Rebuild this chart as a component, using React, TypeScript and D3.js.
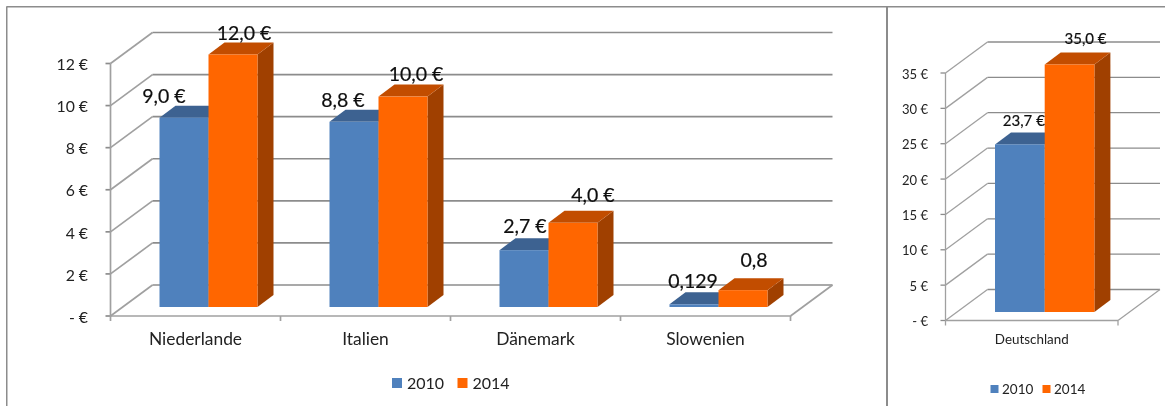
import React from "react";
import * as d3 from "d3";

const years = ["2010", "2014"];
const mainCategories = ["Niederlande", "Italien", "Dänemark", "Slowenien"];
const mainValues2010 = [9.0, 8.8, 2.7, 0.129];
const mainValues2014 = [12.0, 10.0, 4.0, 0.8];
const mainLabels2010 = ["9,0 €", "8,8 €", "2,7 €", "0,129"];
const mainLabels2014 = ["12,0 €", "10,0 €", "4,0 €", "0,8"];
const mainTicks = [0, 2, 4, 6, 8, 10, 12];
const sideCategories = ["Deutschland"];
const sideValues2010 = [23.7];
const sideValues2014 = [35.0];
const sideLabels2010 = ["23,7 €"];
const sideLabels2014 = ["35,0 €"];
const sideTicks = [0, 5, 10, 15, 20, 25, 30, 35];

const FONT = "Lato, 'Open Sans', sans-serif";
const BLUE = { front: "#4f81bd", top: "#3c6291" };
const ORANGE = { front: "#ff6600", top: "#c24e00", side: "#a04000" };
const GRID = "#8c8c8c";

type Nudge = [number, number];
type ChartProps = {
  categories: string[]; a: number[]; b: number[]; la: string[]; lb: string[];
  ticks: number[]; x0: number; x1: number; y0: number; yTop: number; maxV: number;
  baseGap: number; barInset: number; barW: number; gridW: number;
  tickFs: number; tickEnd: number; catFs: number; catY: number; labelFs: number;
  nudgeA: Nudge[]; nudgeB: Nudge[]; clipRight?: number;
  legend: { xs: number[]; textXs: number[]; y: number; size: number; fs: number; baseline: number };
};

const DX = 42, DY = -31, BDX = 16, BDY = -12;

function Chart(p: ChartProps) {
  const y = d3.scaleLinear().domain([0, p.maxV]).range([p.y0, p.yTop]);
  const x = d3.scaleBand<string>().domain(p.categories).range([p.x0, p.x1]).paddingInner(0).paddingOuter(0);
  const barY = (v: number) => y(v) - p.baseGap;
  const poly = (pts: number[][]) => pts.map((q) => q.join(",")).join(" ");
  const ext = x.step() * p.categories.length;
  const tickXs = d3.range(p.categories.length + 1).map((i) => p.x0 + i * x.step());

  const bar = (bx: number, v: number, c: { front: string; top: string; side?: string }, key: string) => {
    const t = barY(v), b = barY(0), w = p.barW;
    return (
      <g key={key}>
        <polygon points={poly([[bx + w, t], [bx + w + BDX, t + BDY], [bx + w + BDX, b + BDY], [bx + w, b]])} fill={c.side ?? c.top} />
        <polygon points={poly([[bx, t], [bx + BDX, t + BDY], [bx + w + BDX, t + BDY], [bx + w, t]])} fill={c.top} />
        <rect x={bx} y={t} width={w} height={b - t} fill={c.front} />
      </g>
    );
  };

  return (
    <g fontFamily={FONT}>
      {p.ticks.map((t) => (
        <g key={t} stroke={GRID} fill="none" strokeWidth={p.gridW}>
          <line x1={p.x0} y1={y(t)} x2={p.x0 + DX} y2={y(t) + DY} stroke="#a0a0a0" />
          <line x1={p.x0 + DX} y1={y(t) + DY} x2={Math.min(p.x0 + ext + DX, p.clipRight ?? 1e4)} y2={y(t) + DY} />
          <line x1={p.x0 - 5} y1={y(t)} x2={p.x0} y2={y(t)} />
        </g>
      ))}
      <g stroke="#a0a0a0" strokeWidth={p.gridW} fill="none">
        <line x1={p.x0} y1={y(0)} x2={p.x0} y2={y(p.maxV)} />
        <line x1={p.x0} y1={y(0)} x2={p.x0 + ext} y2={y(0)} />
        <line x1={p.x0 + ext} y1={y(0)} x2={p.x0 + ext + DX} y2={y(0) + DY} />
        {tickXs.map((tx) => <line key={tx} x1={tx} y1={y(0)} x2={tx} y2={y(0) + 5} />)}
      </g>
      {p.ticks.map((t) => (
        <text key={t} x={p.tickEnd} y={y(t) + p.tickFs * 0.36 + 1} textAnchor="end" fontSize={p.tickFs} fill="#222">
          {t === 0 ? "- €" : `${t} €`}
        </text>
      ))}
      {p.categories.map((c, i) => {
        const bx = x(c)! + p.barInset;
        return (
          <g key={c}>
            {bar(bx, p.a[i], BLUE, "a")}
            {bar(bx + p.barW, p.b[i], ORANGE, "b")}
          </g>
        );
      })}
      {p.categories.map((c, i) => {
        const bx = x(c)! + p.barInset;
        return (
          <g key={c} fontSize={p.labelFs} textAnchor="middle" fill="#111">
            <text x={bx + p.barW / 2 + p.nudgeA[i][0]} y={barY(p.a[i]) + p.nudgeA[i][1]} stroke="#111" strokeWidth={0.2}>{p.la[i]}</text>
            <text x={bx + p.barW * 1.5 + p.nudgeB[i][0]} y={barY(p.b[i]) + p.nudgeB[i][1]} stroke="#111" strokeWidth={0.2}>{p.lb[i]}</text>
            <text x={x(c)! + x.bandwidth() / 2} y={p.catY} fontSize={p.catFs} fill="#222">{c}</text>
          </g>
        );
      })}
      {years.map((yr, i) => (
        <g key={yr}>
          <rect x={p.legend.xs[i]} y={p.legend.y} width={p.legend.size} height={p.legend.size} fill={i === 0 ? BLUE.front : ORANGE.front} />
          <text x={p.legend.textXs[i]} y={p.legend.baseline} fontSize={p.legend.fs} fill="#222">{yr}</text>
        </g>
      ))}
    </g>
  );
}

export default function App() {
  return (
    <svg width={1165} height={406} style={{ position: "absolute", left: 0, top: 0, background: "#fff" }}>
      <defs>
        <filter id="soft" x="0" y="0" width="100%" height="100%">
          <feGaussianBlur stdDeviation="0.35" />
        </filter>
      </defs>
      <g filter="url(#soft)">
        <g stroke="#8c8c8c" strokeWidth={2} fill="none">
          <line x1={6.5} y1={6.5} x2={1165} y2={6.5} />
          <line x1={6.5} y1={6.5} x2={6.5} y2={406} />
          <line x1={887} y1={6.5} x2={887} y2={406} />
        </g>
        <Chart
          categories={mainCategories} a={mainValues2010} b={mainValues2014} la={mainLabels2010} lb={mainLabels2014}
          ticks={mainTicks} x0={110.5} x1={790.5} y0={316} yTop={63.5} maxV={12}
          baseGap={9} barInset={49} barW={49} gridW={1.7}
          tickFs={15.8} tickEnd={88} catFs={17.4} catY={345} labelFs={19.5}
          nudgeA={[[-20, -15], [-11, -15], [1, -17], [-1, -16]]}
          nudgeB={[[11, -15], [13, -16], [20, -21], [11, -23]]}
          legend={{ xs: [392, 457.5], textXs: [407, 472.5], y: 378, size: 10, fs: 16, baseline: 388.5 }}
        />
        <Chart
          categories={sideCategories} a={sideValues2010} b={sideValues2014} la={sideLabels2010} lb={sideLabels2014}
          ticks={sideTicks} x0={945.5} x1={1118} y0={320.5} yTop={73} maxV={35}
          baseGap={8.5} barInset={49.5} barW={49.7} gridW={1.3} clipRight={1162}
          tickFs={13} tickEnd={928} catFs={13.4} catY={344} labelFs={15}
          nudgeA={[[4, -18]]} nudgeB={[[16, -21]]}
          legend={{ xs: [990.5, 1042.5], textXs: [1002, 1054], y: 385, size: 8, fs: 13.5, baseline: 393.5 }}
        />
      </g>
    </svg>
  );
}
